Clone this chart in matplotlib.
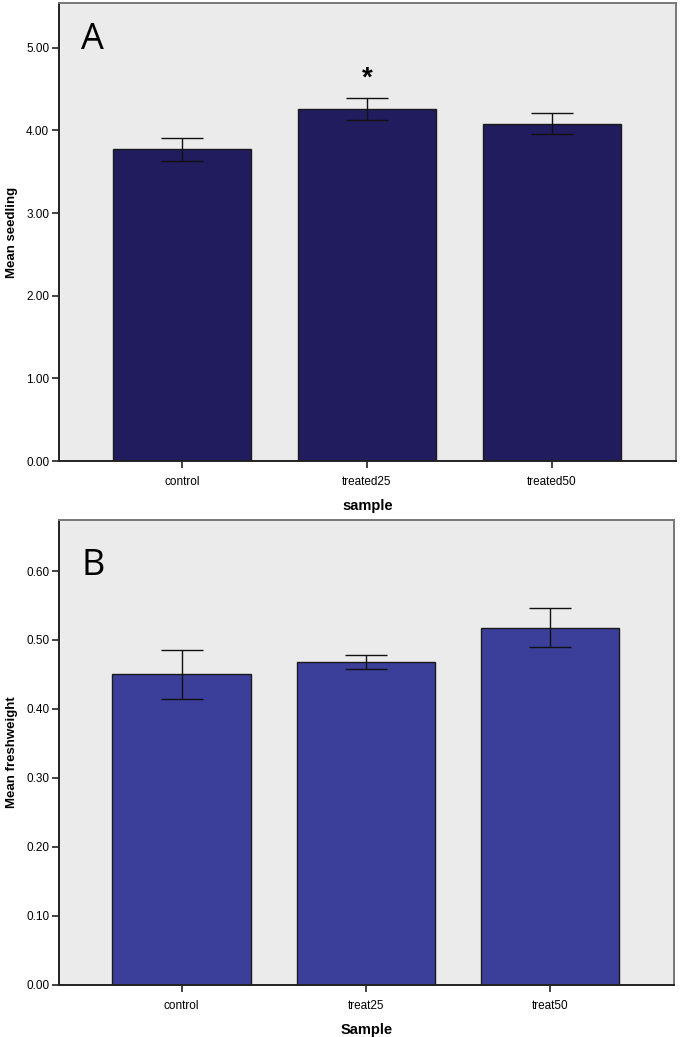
"""
Two-panel SPSS-style bar chart: seedling count and fresh weight per sample
"""
import matplotlib
matplotlib.use("Agg")
import matplotlib.pyplot as plt
import numpy as np

# ── Data ──────────────────────────────────────────────────────────────────────
samples_a   = ["control", "treated25", "treated50"]
seedling    = [3.77, 4.26, 4.08]
seedling_se = [0.14, 0.13, 0.125]
yticks_a    = [0.0, 1.0, 2.0, 3.0, 4.0, 5.0]

samples_b   = ["control", "treat25", "treat50"]
freshweight = [0.450, 0.468, 0.518]
fresh_se    = [0.035, 0.010, 0.028]
yticks_b    = [0.0, 0.1, 0.2, 0.3, 0.4, 0.5, 0.6]

plt.rcParams["font.family"] = ["Liberation Sans", "DejaVu Sans"]

fig = plt.figure(figsize=(6.8, 10.37), dpi=100)
ax_a = fig.add_axes([0.0868, 0.5554, 0.907, 0.4417])
ax_b = fig.add_axes([0.0868, 0.0502, 0.904, 0.4484])


def draw_panel(ax, cats, vals, errs, yticks, ylim, color, xlabel, ylabel, letter, letter_y):
    x = np.arange(len(cats))
    ax.set_facecolor("#EBEBEB")
    ax.bar(x, vals, width=0.75, color=color, edgecolor="#1a1a1a", linewidth=1.0, zorder=2)
    ax.errorbar(x, vals, yerr=errs, fmt="none", ecolor="#111111", elinewidth=1.0,
                capsize=15, capthick=1.0, zorder=3)
    ax.set_xlim(-0.665, 2.67)
    ax.set_ylim(*ylim)
    ax.set_xticks(x)
    ax.set_xticklabels(cats, fontsize=8.5)
    ax.set_yticks(yticks)
    ax.set_yticklabels([f"{t:.2f}" for t in yticks], fontsize=8.5)
    ax.tick_params(axis="both", direction="out", length=5, width=1.2, color="#222222", pad=2)
    ax.tick_params(axis="x", pad=6)
    for side in ["left", "bottom"]:
        ax.spines[side].set_color("#222222")
        ax.spines[side].set_linewidth(1.4)
    for side in ["top", "right"]:
        ax.spines[side].set_color("#777777")
        ax.spines[side].set_linewidth(1.4)
    ax.set_xlabel(xlabel, fontsize=10.5, fontweight="bold", labelpad=8)
    ax.set_ylabel(ylabel, fontsize=9.5, fontweight="bold", labelpad=6)
    ax.text(0.036, letter_y, letter, transform=ax.transAxes, fontsize=26,
            family=["Open Sans", "DejaVu Sans"], va="center", ha="left")


draw_panel(ax_a, samples_a, seedling, seedling_se, yticks_a, (0, 5.54),
           "#211C5E", "sample", "Mean seedling", "A", 0.92)
draw_panel(ax_b, samples_b, freshweight, fresh_se, yticks_b, (0, 0.674),
           "#3B3F99", "Sample", "Mean freshweight", "B", 0.90)

# significance marker above treated25
ax_a.text(1, seedling[1] + seedling_se[1] + 0.24, "*", ha="center", va="center",
          fontsize=20, fontweight="bold")

fig.savefig("out.png", dpi=100)
